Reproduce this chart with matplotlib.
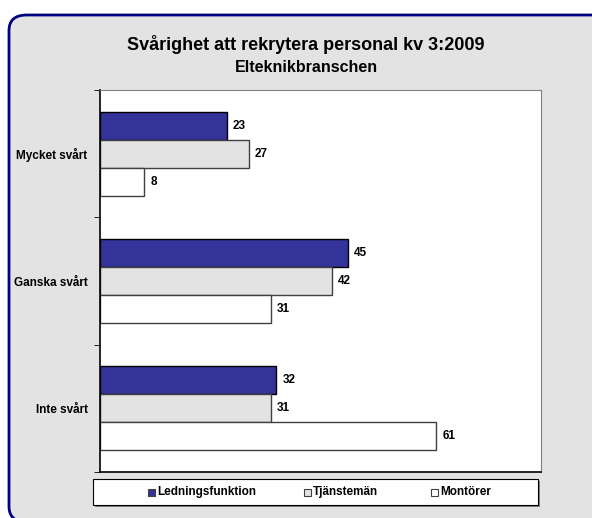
import numpy as np
import matplotlib
matplotlib.use('Agg')
import matplotlib.pyplot as plt
from matplotlib.patches import FancyBboxPatch, Rectangle

plt.rcParams['font.family'] = ['Liberation Sans', 'DejaVu Sans']

categories = ['Mycket svårt', 'Ganska svårt', 'Inte svårt']
series = ['Ledningsfunktion', 'Tjänstemän', 'Montörer']
ledning = [23, 45, 32]
tjanstemen = [27, 42, 31]
montorer = [8, 31, 61]

W, H = 592, 518
fig = plt.figure(figsize=(W / 100, H / 100), dpi=100)
fig.patch.set_facecolor('white')

# rounded chart frame
frame = FancyBboxPatch((9 / W, -4 / H), (W + 20) / W, (H - 15 + 4) / H,
                       boxstyle='round,pad=0,rounding_size=0.03',
                       transform=fig.transFigure, facecolor='#e3e3e3',
                       edgecolor='#000080', linewidth=2, zorder=-10)
fig.patches.append(frame)

fig.text(306 / W, 1 - 45 / H, 'Svårighet att rekrytera personal kv 3:2009',
         ha='center', va='center', fontsize=13, fontweight='bold')
fig.text(306 / W, 1 - 67 / H, 'Elteknikbranschen', ha='center', va='center',
         fontsize=11.5, fontweight='bold')

ax = fig.add_axes([100 / W, 1 - 472 / H, 441 / W, 382 / H])
ax.set_facecolor('white')

y = np.arange(len(categories))
h = 0.22
colors = ['#333399', '#e3e3e3', 'white']
edges = ['black', '#404040', '#404040']
for i, (vals, c, e) in enumerate(zip([ledning, tjanstemen, montorer], colors, edges)):
    pos = y + (i - 1) * h
    ax.barh(pos, vals, height=h, color=c, edgecolor=e, linewidth=1, zorder=2)
    for p, v in zip(pos, vals):
        ax.text(v + 1.1, p, str(v), va='center', ha='left', fontsize=8.5,
                fontweight='bold')

ax.set_xlim(0, 80)
ax.set_ylim(2.5, -0.5)
ax.set_xticks([])
ax.set_yticks(y)
ax.set_yticklabels(categories, fontsize=8.5, fontweight='bold')
ax.tick_params(axis='y', which='major', length=0, pad=9)
ax.set_yticks([-0.5, 0.5, 1.5, 2.5], minor=True)
ax.tick_params(axis='y', which='minor', length=4, direction='out', color='black')
for s in ['top', 'right']:
    ax.spines[s].set_color('#808080')
for s in ['left', 'bottom']:
    ax.spines[s].set_color('black')
    ax.spines[s].set_linewidth(1.2)

# legend box with shadow
lx, ly, lw, lh = 93, 479, 445, 26
fig.patches.append(Rectangle(((lx + 2) / W, 1 - (ly + lh + 2) / H), lw / W, lh / H,
                             transform=fig.transFigure, facecolor='#808080',
                             edgecolor='none', zorder=1))
fig.patches.append(Rectangle((lx / W, 1 - (ly + lh) / H), lw / W, lh / H,
                             transform=fig.transFigure, facecolor='white',
                             edgecolor='black', linewidth=0.8, zorder=2))
lpos = [148, 304, 431]
for name, c, x0 in zip(series, colors, lpos):
    fig.patches.append(Rectangle((x0 / W, 1 - (ly + lh / 2 + 3.5) / H), 7 / W, 7 / H,
                                 transform=fig.transFigure, facecolor=c,
                                 edgecolor='#404040', linewidth=0.8, zorder=3))
    fig.text((x0 + 9) / W, 1 - (ly + lh / 2) / H, name, ha='left', va='center',
             fontsize=8.5, fontweight='bold', zorder=4)

fig.savefig('out.png', dpi=100)
